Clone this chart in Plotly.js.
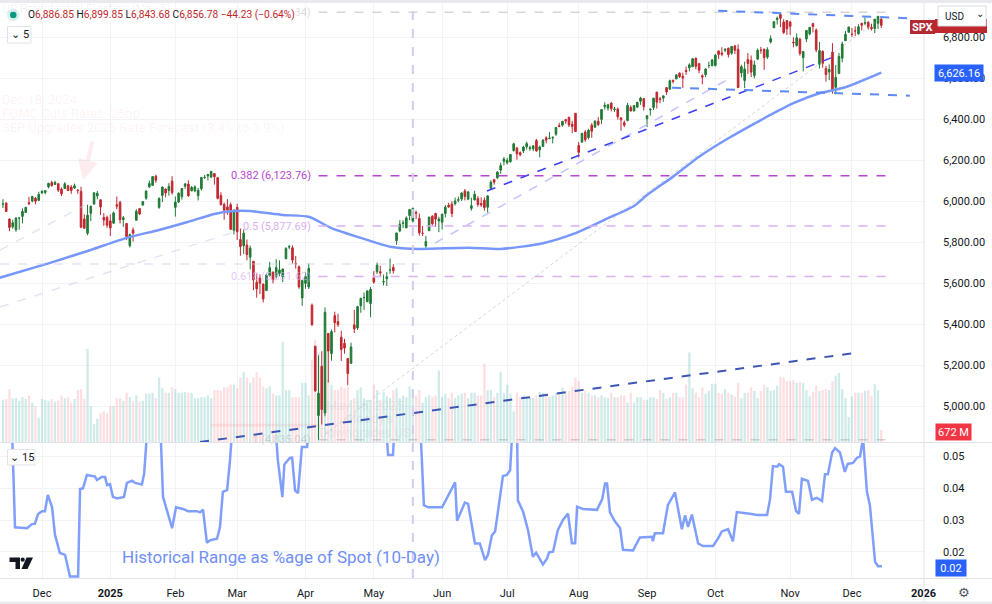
<!DOCTYPE html>
<html><head><meta charset="utf-8">
<script src="https://cdn.plot.ly/plotly-3.0.1.min.js"></script>
<style>html,body{margin:0;padding:0;background:#fff;}#chart{width:992px;height:604px;}</style>
</head><body><div id="chart"></div>
<script>
// ---------- trading calendar (categories) ----------
const holidays = ['2024-11-28','2024-12-25','2025-01-01','2025-01-09','2025-01-20','2025-02-17','2025-04-18',
  '2025-05-26','2025-06-19','2025-07-04','2025-09-01','2025-11-27','2025-12-25','2026-01-01'];
function tradingDays(a, b){
  const out=[]; let d=new Date(a+'T00:00:00Z'); const e=new Date(b+'T00:00:00Z');
  while(d<=e){const w=d.getUTCDay(), s=d.toISOString().slice(0,10);
    if(w!==0&&w!==6&&!holidays.includes(s)) out.push(s); d=new Date(d.getTime()+86400000);}
  return out;
}
const calendar = tradingDays('2024-11-13','2026-01-02');
const monthNames = ['Jan','Feb','Mar','Apr','May','Jun','Jul','Aug','Sep','Oct','Nov','Dec'];

// ---------- SPX daily OHLC (Nov 13 2024 -> Dec 12 2025) ----------
const open = [
5985,5990,5912,5874,5860,5917,5925,5944,5992,6000,6014,6003,
6040,6042,6069,6090,6081,6084,6058,6061,6074,6068,6063,6053,6047,5912,5843,5940,5985,6025,6006,5920,5920,
5903,5892,5982,5994,5910,5890,5782,5859,5906,5963,5980,6014,6069,6076,6121,5969,6027,6058,6051,6097,
5969,5995,6021,6072,6083,6050,6050,6026,6060,6115,6122,6117,6134,6114,6027,5983,5971,5982,5857,
5969,5812,5782,5785,5726,5706,5604,5624,5595,5563,5635,5654,5632,5646,5631,5718,5776,5772,5695,5679,5527,
5598,5581,5492,5292,4954,5194,4966,5354,5256,5441,5412,5336,5306,5232,5208,5396,5381,5489,5529,5509,5500,
5625,5655,5655,5605,5621,5663,5676,5807,5854,5891,5869,5929,5902,5944,5915,5842,5781,5855,5926,5939,5903,
5897,5939,5979,5985,5987,6004,6010,6049,6009,5964,6005,6012,5988,6004,5970,6062,6104,6113,6151,6194,
6187,6192,6246,6259,6236,6244,6265,6256,6255,6295,6250,6266,6308,6304,6307,6326,6368,6370,6397,6409,6374,6428,
6271,6287,6337,6309,6370,6360,6389,6398,6460,6453,6478,6446,6449,6406,6382,6393,6457,6440,6458,6487,6500,
6401,6445,6456,6531,6499,6502,6553,6545,6588,6596,6624,6608,6637,6650,6655,6697,6670,6611,6616,6661,6661,
6661,6732,6722,6735,6745,6721,6756,6740,6625,6588,6690,6686,6612,6692,6736,6741,6702,6776,6845,6885,6910,6873,6880,
6873,6775,6758,6789,6699,6790,6815,6865,6834,6667,6730,6646,6629,6726,6555,6622,6697,6782,6823,
6813,6830,6815,6867,6867,6872,6847,6842,6867,6887];
const high = [
6009,5993,5915,5909,5920,5920,5964,5972,6021,6025,6020,6045,
6053,6052,6089,6099,6099,6088,6066,6092,6079,6078,6085,6057,6070,5935,5982,5978,6041,6049,6007,5941,5929,
5935,5949,6022,6001,5927,5891,5841,5871,5960,5964,6000,6051,6100,6119,6128,6018,6070,6062,6087,6121,
6022,6042,6062,6084,6101,6073,6076,6064,6116,6128,6130,6147,6135,6115,6043,5992,6009,5993,5959,
5987,5866,5861,5812,5783,5706,5645,5642,5597,5646,5703,5654,5716,5711,5670,5775,5786,5783,5732,5685,5615,
5651,5695,5500,5292,5247,5267,5481,5354,5373,5460,5450,5367,5328,5233,5309,5469,5489,5528,5554,5565,5581,
5658,5700,5684,5641,5654,5720,5692,5845,5906,5906,5925,5959,5968,5954,5939,5878,5830,5922,5931,5943,5923,
5937,5981,5991,5999,6017,6021,6043,6059,6045,6016,6050,6024,6018,6018,6028,6101,6108,6146,6187,6215,
6211,6228,6284,6262,6242,6269,6290,6270,6272,6303,6270,6302,6316,6336,6316,6360,6382,6390,6401,6410,6391,6428,
6288,6330,6346,6352,6380,6395,6410,6446,6481,6474,6481,6459,6456,6407,6393,6479,6466,6466,6484,6508,6500,
6417,6451,6502,6533,6508,6513,6555,6592,6593,6619,6627,6626,6656,6672,6697,6699,6674,6618,6648,6680,6693,
6718,6733,6750,6745,6749,6756,6762,6764,6665,6680,6722,6710,6685,6744,6752,6742,6750,6808,6876,6900,6920,6887,6880,
6879,6799,6817,6796,6731,6834,6849,6870,6842,6775,6735,6659,6666,6770,6664,6723,6777,6829,6849,
6844,6852,6862,6868,6895,6877,6865,6887,6901,6900];
const low = [
5966,5947,5853,5865,5850,5860,5891,5944,5980,5993,5984,6003,
6034,6033,6062,6070,6079,6044,6024,6060,6050,6035,6059,6035,5867,5866,5833,5902,5982,6008,5932,5879,5869,
5829,5888,5960,5890,5874,5809,5773,5802,5906,5931,5978,6006,6064,6075,6089,5962,5995,6018,6026,6031,
5924,5990,6007,6059,6020,6047,6043,6003,6051,6107,6100,6111,6080,6008,5977,5909,5933,5858,5837,
5810,5733,5742,5711,5666,5565,5529,5546,5505,5563,5633,5598,5622,5633,5604,5718,5765,5695,5670,5572,5489,
5572,5571,5390,5069,4835,4910,4950,5115,5221,5359,5386,5220,5255,5101,5208,5356,5371,5455,5468,5506,5433,
5597,5643,5633,5588,5585,5645,5646,5786,5848,5868,5868,5907,5895,5912,5831,5829,5767,5855,5880,5874,5848,
5861,5920,5967,5921,5978,5994,6000,6003,6004,5953,6004,5972,5971,5952,5943,6058,6080,6108,6133,6174,
6178,6187,6241,6201,6218,6234,6251,6245,6243,6241,6213,6265,6281,6304,6281,6318,6361,6363,6376,6361,6331,6337,
6212,6287,6289,6301,6308,6358,6365,6375,6446,6441,6437,6434,6397,6343,6360,6388,6438,6436,6454,6469,6441,
6361,6416,6444,6451,6477,6484,6518,6544,6573,6594,6600,6551,6615,6633,6655,6643,6623,6570,6604,6648,6656,
6656,6693,6706,6727,6700,6713,6717,6551,6603,6551,6620,6605,6599,6690,6718,6640,6693,6768,6844,6861,6848,6815,6810,
6810,6750,6754,6709,6632,6775,6808,6822,6726,6647,6650,6582,6589,6524,6521,6622,6676,6782,6823,
6800,6805,6810,6832,6857,6836,6832,6819,6839,6844];
const close = [
5985,5949,5871,5894,5917,5917,5949,5969,5987,6022,5999,6032,
6047,6050,6086,6075,6090,6053,6035,6084,6051,6051,6074,6051,5872,5867,5931,5974,6040,6038,5971,5907,5882,
5869,5942,5975,5909,5918,5827,5836,5843,5950,5937,5997,6049,6086,6119,6101,6012,6068,6039,6071,6041,
5995,6038,6061,6084,6026,6066,6069,6052,6115,6115,6130,6144,6118,6013,5983,5955,5956,5862,5955,
5850,5778,5843,5739,5770,5615,5572,5599,5522,5639,5675,5615,5675,5663,5668,5768,5777,5712,5693,5581,5612,
5633,5671,5397,5074,5062,4983,5457,5268,5363,5406,5397,5276,5283,5158,5288,5376,5485,5525,5529,5561,5569,
5604,5687,5650,5607,5631,5664,5660,5844,5887,5893,5917,5958,5964,5940,5845,5842,5803,5922,5889,5912,5912,
5936,5970,5971,5939,6000,6006,6039,6022,6045,5977,6033,5983,5981,5968,6025,6092,6092,6141,6173,6205,
6198,6227,6279,6230,6226,6263,6280,6260,6269,6244,6264,6297,6297,6306,6310,6359,6363,6389,6390,6371,6363,6339,
6238,6330,6299,6345,6340,6389,6373,6446,6467,6469,6450,6449,6411,6396,6370,6467,6439,6466,6481,6502,6460,
6416,6448,6502,6482,6495,6513,6532,6587,6584,6615,6607,6600,6632,6664,6694,6657,6638,6605,6644,6661,6688,
6711,6715,6716,6740,6715,6754,6735,6553,6655,6644,6671,6629,6664,6735,6735,6699,6738,6792,6875,6891,6891,6822,6840,
6852,6772,6796,6720,6729,6832,6847,6851,6737,6734,6672,6617,6642,6539,6603,6705,6766,6813,6849,
6813,6829,6850,6857,6870,6847,6841,6887,6901,6857];
// volume, billions
const volume = [
2.35,2.4,2.95,2.45,2.45,2.3,2.5,2.4,2.6,2.2,2.0,1.35,
2.4,2.35,2.3,2.4,2.25,2.3,2.6,2.45,2.5,2.2,2.4,2.9,2.95,2.4,5.2,2.0,1.0,1.3,1.6,1.7,1.6,
2.0,2.0,2.45,2.45,2.3,2.75,2.5,2.3,2.6,2.25,2.3,2.7,2.7,2.75,2.45,3.6,3.0,2.75,2.75,3.05,
2.95,2.75,2.75,2.8,2.75,2.75,2.45,2.45,2.5,2.5,2.6,2.45,2.9,2.9,2.85,3.05,3.05,3.2,3.2,
3.0,3.6,3.9,3.6,3.3,3.6,3.9,3.6,3.1,3.0,3.1,2.7,2.6,2.6,5.6,2.9,2.9,2.5,2.5,2.5,3.3,
3.3,2.6,4.6,5.7,5.0,4.2,3.6,3.45,3.2,2.9,2.9,3.1,3.0,3.05,2.35,2.45,2.9,3.05,2.45,2.35,2.35,
3.2,2.9,2.35,2.8,2.55,2.45,2.9,3.0,2.45,2.6,2.5,3.1,2.9,2.6,2.9,2.2,2.5,2.6,2.5,2.6,4.0,
2.5,2.7,2.45,2.75,2.45,2.6,2.7,2.75,2.45,2.75,2.75,2.6,2.6,4.4,2.9,2.9,2.5,2.75,3.9,2.75,
3.2,2.7,1.7,2.75,2.5,2.6,2.5,2.45,2.45,2.6,2.8,2.75,2.75,2.5,2.6,2.75,2.8,3.05,2.75,2.85,3.1,3.6,
3.4,2.75,2.85,2.75,2.6,2.6,2.5,2.6,2.5,2.45,2.75,2.5,2.5,2.6,2.6,2.2,2.75,2.2,2.5,2.5,2.35,
2.35,2.5,2.5,2.4,2.9,2.75,2.4,2.5,2.75,2.75,2.5,2.5,3.2,5.0,3.0,2.75,2.5,3.05,2.7,2.85,3.25,
3.25,2.75,2.7,2.95,2.75,2.65,2.55,3.3,2.45,2.75,2.75,3.05,2.85,2.45,2.85,3.2,3.05,2.85,2.9,3.15,3.65,3.6,3.4,
3.4,3.45,3.3,3.35,3.3,2.9,2.55,2.8,3.15,2.85,2.9,2.95,2.9,3.4,3.7,3.85,2.95,2.45,1.4,
2.55,2.75,2.75,2.75,2.85,2.9,2.55,3.25,2.9,0.672];

// last (live) bar as shown in the legend
const lastBar = {o:6886.85, h:6899.85, l:6843.68, c:6856.78, chg:-44.23, pct:-0.64};
const maLast = 6626.16;

// moving average line (bar position, value)
const maPos = [-1,14,27,38,48,57,65,71,76,86,94,101,110,119,128,143,153,166,176,186,194,198,206,214,223,233,243,251,259,270];
const maVal = [5626,5696,5761,5820,5859,5899,5937,5951,5951,5932,5923,5868,5820,5777,5766,5772,5766,5794,5843,5916,5976,6029,6119,6216,6306,6395,6477,6526,6555,6626];

const rangePos = [-1,2.8,3.7,7.4,8.9,9.8,10.8,12,12.9,13.8,15.1,16,17.5,19.1,20.6,23.1,23.7,24.6,25.8,28.3,28.9,30.4,31.4,32,32.9,33.8,35.1,37.2,38.1,39.7,40.6,42.7,43.4,44.6,48.3,49.2,50.7,52,53.2,55.3,56.9,59.6,60.6,61.5,62.7,63.6,65.8,66.7,67.6,68.9,69.8,70.7,83.6,84.5,85.9,86.5,88.2,88.9,89.8,90.7,91.9,93.5,94.4,117.4,118.4,119.9,120.5,128.2,129.4,130.7,135,139,139.6,140.5,142,143,145.1,146.6,148.2,149.1,150.3,151.3,152.8,153.7,154.9,155.9,156.8,158,158.3,159.9,161.4,162.9,163.9,166,167.2,167.9,169.1,170.6,172.2,173.7,174.9,175.9,176.5,178.3,182.6,184.2,185.1,185.7,186.6,188.1,189.7,190.6,193.7,195.8,199.5,199.8,200.4,202.9,204.4,206.6,208.7,209.7,210.6,211.8,213.7,215.2,218.3,219.8,221,222.9,224.4,225.6,229.6,231.8,234.9,235.8,236.7,238,238.6,239.8,240.7,242.6,243.8,244.7,245.6,247.5,248.7,250.2,251.8,252.7,253.6,254.9,255.8,257.3,258.8,259.7,261.3,262.5,263.5,264.4,265.6,266.5,268.1,269,270.2];
const rangeVal = [0.060,0.058,0.0277,0.0274,0.0287,0.0288,0.0319,0.0328,0.0328,0.0379,0.0340,0.0253,0.0196,0.0190,0.0122,0.0122,0.0398,0.0400,0.0442,0.0437,0.0426,0.0436,0.0436,0.0410,0.0413,0.0373,0.0368,0.0373,0.0417,0.0424,0.0417,0.0412,0.0446,0.062,0.062,0.0373,0.0320,0.0274,0.0340,0.0335,0.0328,0.0328,0.0324,0.0333,0.0228,0.0236,0.0241,0.0277,0.0389,0.0394,0.0489,0.062,0.062,0.0489,0.0372,0.0475,0.0496,0.0497,0.0393,0.0385,0.0530,0.0530,0.065,0.065,0.0505,0.0505,0.062,0.062,0.0347,0.0340,0.0340,0.0419,0.0298,0.0321,0.0355,0.0351,0.0226,0.0226,0.0173,0.0190,0.0252,0.0264,0.0380,0.0439,0.0442,0.0457,0.062,0.062,0.0362,0.0326,0.0268,0.0184,0.0197,0.0160,0.0177,0.0198,0.0200,0.0269,0.0301,0.0320,0.0227,0.0227,0.0342,0.0335,0.0332,0.0365,0.0415,0.0415,0.0324,0.0296,0.0275,0.0206,0.0204,0.0245,0.0247,0.0233,0.0258,0.0258,0.0347,0.0387,0.0271,0.0315,0.0278,0.0317,0.0226,0.0218,0.0218,0.0241,0.0264,0.0271,0.0233,0.0325,0.0320,0.0316,0.0316,0.0365,0.0470,0.0468,0.0476,0.0468,0.0389,0.0389,0.0329,0.0319,0.0430,0.0423,0.0364,0.0370,0.0360,0.0444,0.0444,0.0513,0.0527,0.0513,0.0452,0.0477,0.0480,0.0496,0.0501,0.0560,0.0389,0.0347,0.0168,0.0154,0.0154];

// Fibonacci retracement levels
const fibLevels = [0, 0.382, 0.5, 0.618, 1];
const fibPrices = [6920.34, 6123.76, 5877.69, 5631.62, 4835.04];
const priceTicks = [5000,5200,5400,5600,5800,6000,6200,6400,6600,6800];
const rangeTicks = [0.02,0.03,0.04,0.05];

// ---------- build ----------
const pos = close.map((_, i) => i);
const tickPos = [], tickText = [];
calendar.forEach((d, i) => {
  if (i === 0) return;
  if (d.slice(5,7) !== calendar[i-1].slice(5,7)) {
    const m = +d.slice(5,7) - 1;
    tickPos.push(i);
    tickText.push(m === 0 ? '<b>' + d.slice(0,4) + '</b>' : monthNames[m]);
  }
});
const fmt = (v, d) => v.toLocaleString('en-US', {minimumFractionDigits: d, maximumFractionDigits: d});

const GREEN = '#1f7a35', RED = '#c2272f';
const volColors = close.map((c, i) => c >= open[i] ? 'rgba(38,166,154,0.22)' : 'rgba(242,54,69,0.16)');

const traces = [
  {type:'bar', x:pos, y:volume, xaxis:'x', yaxis:'y', marker:{color:volColors, line:{width:0}}, width:0.7, hoverinfo:'skip'},
  {type:'candlestick', x:pos, open:open, high:high, low:low, close:close, xaxis:'x', yaxis:'y3',
    increasing:{line:{color:GREEN, width:1}, fillcolor:GREEN},
    decreasing:{line:{color:RED, width:1}, fillcolor:RED}, whiskerwidth:0, hoverinfo:'skip'},
  {type:'scatter', mode:'lines', x:maPos, y:maVal, xaxis:'x', yaxis:'y3',
    line:{color:'#7797fb', width:2.5, shape:'spline', smoothing:0.6}, hoverinfo:'skip'},
  {type:'scatter', mode:'lines', x:rangePos, y:rangeVal, xaxis:'x', yaxis:'y2',
    line:{color:'#809ffd', width:2.5}, hoverinfo:'skip'}
];

// pixel helpers for chrome (plot area: x 0..924, y 3..578)
const X = p => p / 924, Y = p => (578 - p) / 575;
const xmin = -0.911, xmax = 283.14;

const fibColors = ['rgba(150,150,150,0.40)','#b845cf','#dbb0f3','#dbb0f3','rgba(150,150,150,0.40)'];
const shapes = [];
// faint old drawings on the left
shapes.push({type:'line', xref:'x', yref:'y3', x0:-0.9, y0:5761, x1:25.2, y1:5980, line:{color:'rgba(196,205,230,0.5)', width:1.5, dash:'dash'}});
shapes.push({type:'line', xref:'x', yref:'y3', x0:-0.9, y0:5483, x1:72.9, y1:5858, line:{color:'rgba(196,205,230,0.5)', width:1.5, dash:'dash'}});
shapes.push({type:'line', xref:'x', yref:'y3', x0:-0.9, y0:5693, x1:128, y1:5693, line:{color:'rgba(196,205,230,0.5)', width:1.5, dash:'dash'}});
shapes.push({type:'rect', xref:'x', yref:'y3', x0:63.6, x1:97.5, y0:4900, y1:4914, fillcolor:'rgba(242,54,69,0.09)', line:{width:0}});
// fib levels
fibPrices.forEach((p, k) => shapes.push({type:'line', xref:'x', yref:'y3', x0:97, x1:271.5, y0:p, y1:p,
  line:{color:fibColors[k], width:1.5, dash:'dash'}}));
// trend lines
shapes.push({type:'line', xref:'x', yref:'y3', x0:99, y0:4863, x1:269, y1:6883, line:{color:'rgba(185,185,185,0.6)', width:1, dash:'dot'}});
shapes.push({type:'line', xref:'x', yref:'y3', x0:132.8, y0:5795, x1:223.6, y1:6600, line:{color:'#c2c3ff', width:1.5, dash:'dash'}});
shapes.push({type:'line', xref:'x', yref:'y3', x0:148.8, y0:6049, x1:255.2, y1:6702, line:{color:'#3c40f2', width:1.5, dash:'dash'}});
shapes.push({type:'line', xref:'x', yref:'y3', x0:219.9, y0:6928, x1:279.7, y1:6891, line:{color:'#5b8af7', width:2, dash:'dash'}});
shapes.push({type:'line', xref:'x', yref:'y3', x0:205.7, y0:6553, x1:278.8, y1:6514, line:{color:'#5b8af7', width:2, dash:'dash'}});
shapes.push({type:'line', xref:'x', yref:'y3', x0:60.6, y0:4824.4, x1:262.5, y1:5260, line:{color:'#3c57b3', width:2, dash:'dash'}});
// vertical event line (May 2025)
shapes.push({type:'line', xref:'x', yref:'paper', x0:126, x1:126, y0:0, y1:1, line:{color:'#d3cbf2', width:2, dash:'dash'}});
// chrome
const rectP = (a,b,c,d,fill,line) => ({type:'rect', xref:'paper', yref:'paper', x0:X(a), x1:X(b), y0:Y(d), y1:Y(c), fillcolor:fill, line:line||{width:0}});
const lineP = (a,c,b,d,col) => ({type:'line', xref:'paper', yref:'paper', x0:X(a), y0:Y(c), x1:X(b), y1:Y(d), line:{color:col, width:1}});
shapes.push(rectP(0,992,0,3,'#e9eaee'));
shapes.push(rectP(0,992,601.5,604,'#e9eaee'));
shapes.push(lineP(0,442.5,992,442.5,'#e0e3eb'));
shapes.push(lineP(924,3,924,601,'#e0e3eb'));
shapes.push(lineP(0,578.5,992,578.5,'#e0e3eb'));
// legend dot
shapes.push({type:'circle', xref:'paper', yref:'paper', x0:X(7), x1:X(19.5), y0:Y(21.3), y1:Y(8.8), fillcolor:'rgba(8,153,129,0.14)', line:{width:0}});
shapes.push({type:'circle', xref:'paper', yref:'paper', x0:X(10), x1:X(16.5), y0:Y(18.3), y1:Y(11.8), fillcolor:'#089981', line:{width:0}});
// small boxes
shapes.push(rectP(7.5,31,26.5,43,'#ffffff',{color:'#e0e3eb', width:1}));
shapes.push(rectP(7.5,35,449.5,465,'#ffffff',{color:'#e0e3eb', width:1}));
// right side labels
shapes.push(rectP(935,987,19,33,'#c0272d'));
shapes.push(rectP(910,935,20,34,'#b32a35'));
shapes.push(rectP(938,986,6,26,'#ffffff',{color:'#d9dbe2', width:1}));
// TradingView logo
shapes.push({type:'path', xref:'paper', yref:'paper', path:`M ${X(9.5)} ${Y(557.5)} L ${X(20)} ${Y(557.5)} L ${X(20)} ${Y(569)} L ${X(15.5)} ${Y(569)} L ${X(15.5)} ${Y(562)} L ${X(9.5)} ${Y(562)} Z`, fillcolor:'#131722', line:{width:0}});
shapes.push({type:'circle', xref:'paper', yref:'paper', x0:X(20.6), x1:X(24.8), y0:Y(561.8), y1:Y(557.6), fillcolor:'#131722', line:{width:0}});
shapes.push({type:'path', xref:'paper', yref:'paper', path:`M ${X(26.5)} ${Y(557.5)} L ${X(33)} ${Y(557.5)} L ${X(27.5)} ${Y(569)} L ${X(21.5)} ${Y(569)} Z`, fillcolor:'#131722', line:{width:0}});

const FONT = 'Roboto, "DejaVu Sans", sans-serif';
const ann = [];
const txtP = (x, y, text, opts) => Object.assign({xref:'paper', yref:'paper', x:X(x), y:Y(y), text:text, showarrow:false,
  xanchor:'left', yanchor:'middle', font:{family:FONT, size:11, color:'#131722'}}, opts||{});
// faint event notes
ann.push(txtP(0, 9, 'US Presidential Election (Nov 5)', {font:{family:FONT, size:12, color:'rgba(110,90,200,0.10)'}}));
ann.push(txtP(0, 100, 'Dec 18, 2024', {font:{family:FONT, size:13, color:'rgba(242,54,69,0.07)'}}));
ann.push(txtP(0, 114, 'FOMC Cuts Rates -25bp', {font:{family:FONT, size:13, color:'rgba(242,54,69,0.07)'}}));
ann.push(txtP(0, 128, 'SEP Upgrades 2025 Rate Forecast (3.4% to 3.9%)', {font:{family:FONT, size:13, color:'rgba(242,54,69,0.07)'}}));
ann.push({xref:'x', yref:'y3', x:24.6, y:6102, ax:10, ay:-40, text:'', showarrow:true, arrowhead:2, arrowsize:1, arrowwidth:4, arrowcolor:'rgba(242,54,69,0.09)'});
ann.push(txtP(364, 405, 'May 16, 2025', {xanchor:'center', font:{family:FONT, size:13, color:'rgba(100,100,130,0.10)'}}));
ann.push(txtP(369, 418, "Moody's", {xanchor:'center', font:{family:FONT, size:13, color:'rgba(100,100,130,0.10)'}}));
ann.push(txtP(365, 432, 'Downgrades US', {xanchor:'center', font:{family:FONT, size:13, color:'rgba(100,100,130,0.10)'}}));
// fib labels
fibPrices.forEach((p, k) => ann.push({xref:'x', yref:'y3', x:97, y:p, xanchor:'right', yanchor:'middle', xshift:-6, showarrow:false,
  text: fibLevels[k] + ' (' + fmt(p, 2) + ')', font:{family:FONT, size:11, color: k===3 ? 'rgba(219,176,243,0.7)' : (k===0||k===4 ? 'rgba(150,150,150,0.35)' : fibColors[k])}}));
// OHLC legend
const rv = v => '<span style="color:#c0272d">' + v + '</span>';
ann.push(txtP(26, 15, 'O' + rv(fmt(lastBar.o,2)) + ' H' + rv(fmt(lastBar.h,2)) + ' L' + rv(fmt(lastBar.l,2)) + ' C' + rv(fmt(lastBar.c,2)) + ' ' +
  rv('−' + fmt(-lastBar.chg,2) + ' (−' + fmt(-lastBar.pct,2) + '%)'),
  {bgcolor:'rgba(255,255,255,0.92)', borderpad:1, font:{family:FONT, size:10.2, color:'#131722'}}));
ann.push(txtP(19.5, 35, '⌄ 5', {xanchor:'center', font:{family:FONT, size:11, color:'#131722'}}));
ann.push(txtP(21.5, 457, '⌄ 15', {xanchor:'center', font:{family:FONT, size:11, color:'#131722'}}));
ann.push(txtP(120, 556.5, 'Historical Range as %age of Spot (10-Day)', {font:{family:FONT, size:17, color:'#6f8ff9'}}));
// right side labels
ann.push(txtP(922.5, 27, '<b>SPX</b>', {xanchor:'center', font:{family:FONT, size:11, color:'#ffffff'}}));
ann.push(txtP(943, 16, 'USD', {font:{family:FONT, size:10, color:'#131722'}}));
ann.push(txtP(980, 14, '⌄', {xanchor:'center', font:{family:FONT, size:10, color:'#131722'}}));
ann.push(txtP(959, 73, fmt(maLast, 2), {xanchor:'center', bgcolor:'#2962ff', width:44, height:12, borderpad:2, font:{family:FONT, size:11, color:'#ffffff'}}));
ann.push(txtP(953.5, 432, Math.round(volume[volume.length-1]*1000) + ' M', {xanchor:'center', bgcolor:'#f23645', width:31, height:12, borderpad:2, font:{family:FONT, size:11, color:'#ffffff'}}));
ann.push(txtP(951, 568, rangeVal[rangeVal.length-1].toFixed(2), {xanchor:'center', bgcolor:'#2962ff', width:26, height:12, borderpad:2, font:{family:FONT, size:11, color:'#ffffff'}}));
ann.push(txtP(963.5, 592, '⚙', {xanchor:'center', font:{family:'DejaVu Sans', size:13, color:'#50535e'}}));

const GRID = '#f2f3f6';
const layout = {
  width:992, height:604, margin:{l:0, r:68, t:3, b:26},
  paper_bgcolor:'#ffffff', plot_bgcolor:'#ffffff', showlegend:false,
  font:{family:FONT, size:11, color:'#131722'},
  xaxis:{type:'linear', range:[xmin, xmax], anchor:'y2', tickvals:tickPos, ticktext:tickText, showgrid:true, gridcolor:GRID,
    zeroline:false, showline:false, ticks:'', ticklabelstandoff:7, rangeslider:{visible:false}, fixedrange:true,
    tickfont:{family:FONT, size:11, color:'#131722'}},
  yaxis:{domain:[0.2365, 1], range:[0, 24.5], visible:false, fixedrange:true},
  yaxis3:{overlaying:'y', side:'right', range:[4824.4, 6965.9], tickvals:priceTicks, ticktext:priceTicks.map(v => fmt(v,2)),
    showgrid:true, gridcolor:GRID, zeroline:false, showline:false, ticks:'', ticklabelstandoff:18, fixedrange:true,
    tickfont:{family:FONT, size:11, color:'#131722'}},
  yaxis2:{domain:[0, 0.2348], range:[0.0117, 0.0543], side:'right', tickvals:rangeTicks, ticktext:rangeTicks.map(v => v.toFixed(2)),
    showgrid:true, gridcolor:GRID, zeroline:false, showline:false, ticks:'', ticklabelstandoff:18, fixedrange:true,
    tickfont:{family:FONT, size:11, color:'#131722'}},
  shapes:shapes, annotations:ann
};
Plotly.newPlot('chart', traces, layout, {staticPlot:true, displayModeBar:false});
</script></body></html>
